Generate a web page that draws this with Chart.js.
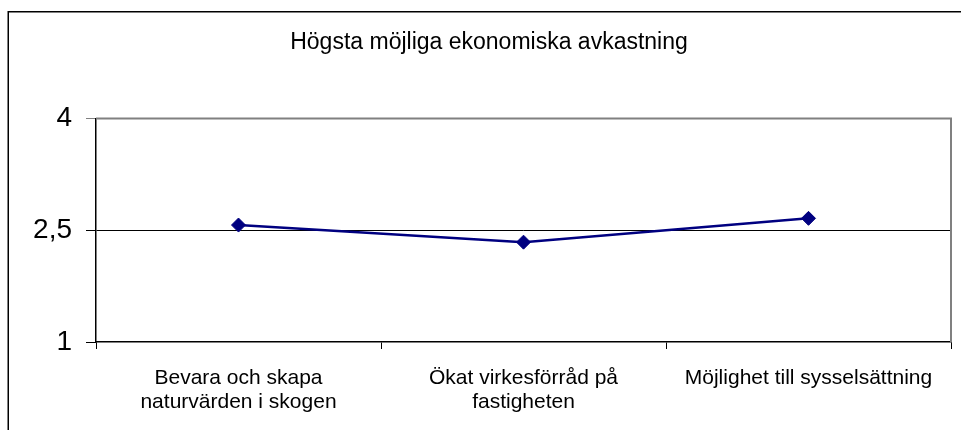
<!DOCTYPE html>
<html>
<head>
<meta charset="utf-8">
<script src="https://cdn.jsdelivr.net/npm/chart.js@4/dist/chart.umd.min.js"></script>
<style>
  html, body { margin: 0; padding: 0; background: #fff; }
  #wrap { position: relative; width: 961px; height: 430px; }
</style>
</head>
<body>
<div id="wrap"><canvas id="c" width="961" height="430"></canvas></div>
<script>
const chartTitle = "Högsta möjliga ekonomiska avkastning";
const categories = [
  ["Bevara och skapa", "naturvärden i skogen"],
  ["Ökat virkesförråd på", "fastigheten"],
  "Möjlighet till sysselsättning"
];
const values = [2.57, 2.34, 2.66];
const yTickValues = [1, 2.5, 4];

const FONT = "'Liberation Sans', Arial, sans-serif";

const framePlugin = {
  id: 'frame',
  beforeDraw(chart) {
    const ctx = chart.ctx;
    ctx.save();
    ctx.fillStyle = '#fff';
    ctx.fillRect(0, 0, chart.width, chart.height);
    ctx.strokeStyle = '#000';
    ctx.lineWidth = 1.5;
    ctx.beginPath();
    ctx.moveTo(8.25, chart.height);
    ctx.lineTo(8.25, 11.75);
    ctx.lineTo(chart.width, 11.75);
    ctx.stroke();
    ctx.restore();
  },
  beforeDatasetsDraw(chart) {
    const a = chart.chartArea;
    const ctx = chart.ctx;
    ctx.save();
    ctx.strokeStyle = '#808080';
    ctx.lineWidth = 2;
    ctx.beginPath();
    ctx.moveTo(a.left, a.top);
    ctx.lineTo(a.right, a.top);
    ctx.lineTo(a.right, a.bottom);
    ctx.stroke();
    ctx.restore();
  }
};

new Chart(document.getElementById('c'), {
  type: 'line',
  data: {
    labels: categories,
    datasets: [{
      data: values,
      borderColor: '#000080',
      backgroundColor: '#000080',
      borderWidth: 2.5,
      tension: 0,
      pointStyle: 'rectRot',
      pointRadius: 7,
      pointBackgroundColor: '#000080',
      pointBorderColor: '#000080',
      pointBorderWidth: 1,
      fill: false
    }]
  },
  options: {
    responsive: false,
    animation: false,
    devicePixelRatio: 1,
    layout: { padding: { left: 27, right: 10, top: 0, bottom: 0 } },
    plugins: {
      legend: { display: false },
      tooltip: { enabled: false },
      title: {
        display: true,
        text: chartTitle,
        color: '#000',
        font: { family: FONT, size: 23, weight: 'normal', lineHeight: 1.2 },
        padding: { top: 28.5, bottom: 62.4 }
      }
    },
    scales: {
      x: {
        offset: true,
        afterFit(scale) { scale.height = 88; },
        grid: {
          offset: true,
          drawOnChartArea: false,
          drawTicks: true,
          tickLength: 7,
          tickColor: '#000',
          tickWidth: 1
        },
        border: { display: true, color: '#000', width: 1.5 },
        ticks: {
          color: '#000',
          font: { family: FONT, size: 21, lineHeight: 1.15 },
          padding: 17,
          maxRotation: 0,
          minRotation: 0,
          autoSkip: false
        }
      },
      y: {
        min: 1,
        max: 4,
        afterFit(scale) { scale.width = 69; },
        afterBuildTicks(scale) { scale.ticks = yTickValues.map(v => ({ value: v })); },
        grid: {
          drawTicks: true,
          tickLength: 10,
          color: (c) => c.tick && c.tick.value === 2.5 ? '#000' : 'rgba(0,0,0,0)',
          lineWidth: 1,
          tickColor: (c) => c.tick && c.tick.value === 4 ? '#808080' : '#000'
        },
        border: { display: true, color: '#000', width: 1.5 },
        ticks: {
          color: '#000',
          font: { family: FONT, size: 28 },
          padding: 14,
          callback: (v) => String(v).replace('.', ',')
        }
      }
    }
  },
  plugins: [framePlugin]
});
</script>
</body>
</html>
